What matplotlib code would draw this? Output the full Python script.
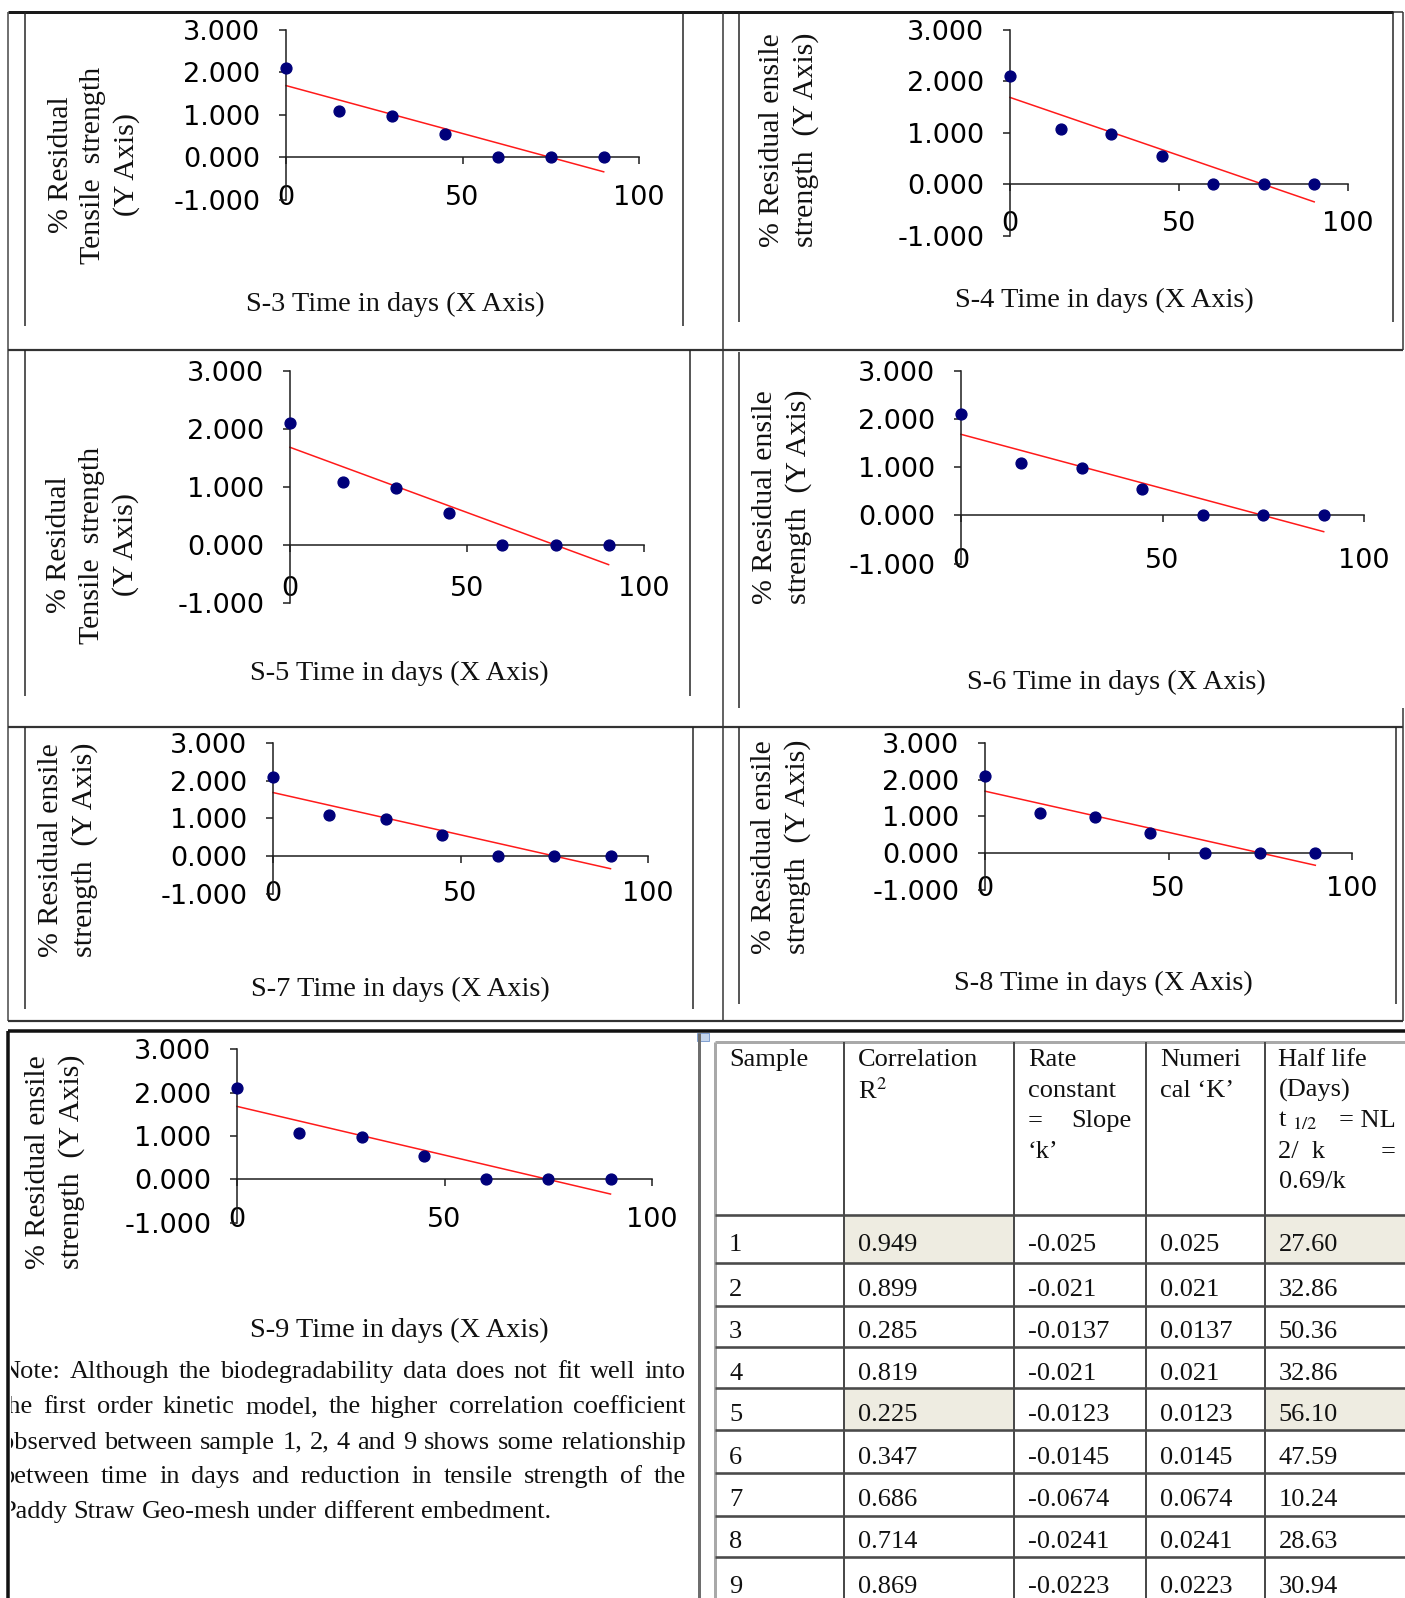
import matplotlib
matplotlib.use("Agg")
import matplotlib.pyplot as plt
import numpy as np
from matplotlib.ticker import FormatStrFormatter
from matplotlib.patches import Rectangle

plt.rcParams['axes.unicode_minus'] = False
plt.rcParams['mathtext.fontset'] = 'stix'

# ------------------------------------------------------------------ data
days = [0, 15, 30, 45, 60, 75, 90]
s3_residual = [2.10, 1.08, 0.98, 0.55, 0.0, 0.0, 0.0]
s4_residual = [2.10, 1.08, 0.98, 0.55, 0.0, 0.0, 0.0]
s5_residual = [2.10, 1.08, 0.98, 0.55, 0.0, 0.0, 0.0]
s6_residual = [2.10, 1.08, 0.98, 0.55, 0.0, 0.0, 0.0]
s7_residual = [2.10, 1.08, 0.98, 0.55, 0.0, 0.0, 0.0]
s8_residual = [2.10, 1.08, 0.98, 0.55, 0.0, 0.0, 0.0]
s9_residual = [2.10, 1.08, 0.98, 0.55, 0.0, 0.0, 0.0]
x_ticks = [0, 50, 100]
y_ticks = [-1, 0, 1, 2, 3]

ylabel_long = "% Residual\nTensile  strength\n(Y Axis)"
ylabel_short = "% Residual ensile\nstrength  (Y Axis)"

table_samples = ['1', '2', '3', '4', '5', '6', '7', '8', '9']
table_r2 = ['0.949', '0.899', '0.285', '0.819', '0.225', '0.347', '0.686', '0.714', '0.869']
table_rate = ['-0.025', '-0.021', '-0.0137', '-0.021', '-0.0123', '-0.0145', '-0.0674', '-0.0241', '-0.0223']
table_numk = ['0.025', '0.021', '0.0137', '0.021', '0.0123', '0.0145', '0.0674', '0.0241', '0.0223']
table_half = ['27.60', '32.86', '50.36', '32.86', '56.10', '47.59', '10.24', '28.63', '30.94']
highlighted_samples = ['1', '5']

note_lines = [
    "Note: Although the biodegradability data does not fit well into",
    "the first order kinetic model, the higher correlation coefficient",
    "observed between sample 1, 2, 4 and 9 shows some relationship",
    "between time in days and reduction in tensile strength of the",
    "Paddy Straw Geo-mesh under different embedment.",
]

# ------------------------------------------------------------------ layout
W, H = 1405, 1598
SERIF = 'Liberation Serif'
SANS = 'DejaVu Sans'

fig = plt.figure(figsize=(W / 100, H / 100), dpi=100)
bg = fig.add_axes([0, 0, 1, 1])
bg.set_xlim(0, W)
bg.set_ylim(H, 0)
bg.axis('off')


def line(x0, y0, x1, y1, px, color='#222222'):
    bg.plot([x0, x1], [y0, y1], color=color, lw=px * 0.72, solid_capstyle='butt')


# outer grid / frames
line(8, 12, 1393, 12, 3, '#1a1a1a')
line(1393, 12, 1403, 12, 1.5, '#333333')
line(8, 12, 8, 1021, 1.5, '#444444')
for yy in (350, 727, 1021):
    line(8, yy, 1403, yy, 2.2, '#333333')
line(723, 12, 723, 1021, 1.5, '#333333')
line(1403, 12, 1403, 350, 1.5, '#333333')
line(1403, 708, 1403, 1021, 1.5, '#333333')
line(8, 1031, W, 1031, 3.5, '#111111')
line(8, 1031, 8, H, 3.5, '#111111')
line(699, 1033, 699, H, 3, '#6e6e6e')
# chart-area frames
for (xx, ya, yb) in [(25, 12, 326), (683, 12, 326), (739, 12, 322), (1393, 12, 322),
                     (25, 350, 696), (690, 350, 696), (739, 352, 708),
                     (25, 727, 1009), (693, 727, 1009), (739, 727, 1004), (1396, 727, 1004)]:
    line(xx, ya, xx, yb, 1.5, '#222222')

# name, values, axes box (x0, x100, y3, y-1), ylabel centre, xlabel centre, ylabel, xtick offset
charts = [
    ('S-3', s3_residual, (286, 639, 29.5, 200), (94, 165), (395, 304), ylabel_long, 38.6),
    ('S-4', s4_residual, (1010, 1348, 29.5, 236), (789, 140), (1104, 300), ylabel_short, 37.7),
    ('S-5', s5_residual, (290, 644, 371, 603), (92.5, 545), (399, 673.5), ylabel_long, 42.0),
    ('S-6', s6_residual, (961, 1364, 371, 563.5), (782, 497), (1116, 682), ylabel_short, 43.6),
    ('S-7', s7_residual, (273, 648, 743, 893.6), (68, 850), (400, 989), ylabel_short, 36.6),
    ('S-8', s8_residual, (985, 1352, 743, 889.5), (781, 847), (1103.5, 983), ylabel_short, 34.6),
    ('S-9', s9_residual, (237, 652, 1049.4, 1222.7), (55, 1162), (399.5, 1330), ylabel_short, 38.3),
]

for name, resid, (x0, x1, yt, yb), (ylx, yly), (xlx, xly), ylab, xoff in charts:
    ax = fig.add_axes([x0 / W, 1 - yb / H, (x1 - x0) / W, (yb - yt) / H])
    ax.patch.set_alpha(0)
    ax.set_xlim(0, 100)
    ax.set_ylim(-1, 3)
    for s in ('top', 'right'):
        ax.spines[s].set_visible(False)
    ax.spines['bottom'].set_position(('data', 0))
    for s in ('left', 'bottom'):
        ax.spines[s].set_color('#1e1e1e')
        ax.spines[s].set_linewidth(1.1)
    ax.set_xticks(x_ticks)
    ax.set_yticks(y_ticks)
    ax.yaxis.set_major_formatter(FormatStrFormatter('%.3f'))
    xpad = max(0.0, (xoff - 11 - 7) * 0.72)
    ax.tick_params(axis='x', direction='out', length=5, width=1.1, color='#1e1e1e',
                   labelsize=19.5, pad=xpad)
    ax.tick_params(axis='y', direction='out', length=5, width=1.1, color='#1e1e1e',
                   labelsize=19.5, pad=13.5)
    for lab in ax.get_xticklabels() + ax.get_yticklabels():
        lab.set_fontfamily(SANS)
    coef = np.polyfit(days, resid, 1)
    xs = np.array([days[0], days[-1]])
    ax.plot(xs, np.polyval(coef, xs), color='#ff1a1a', lw=1.1, zorder=2, clip_on=False)
    ax.plot(days, resid, 'o', color='#00007a', ms=7.8, zorder=3, clip_on=False)
    bg.text(ylx, yly, ylab, rotation=90, ha='center', va='center', multialignment='center',
            fontsize=21.5, family=SERIF, linespacing=1.33, color='#111111')
    bg.text(xlx, xly, f"{name} Time in days (X Axis)", ha='center', va='center',
            fontsize=20.4, family=SERIF, color='#111111')

# ------------------------------------------------------------------ note (justified, clipped left)
nax = fig.add_axes([10.5 / W, 1 - 1540 / H, (698 - 10.5) / W, (1540 - 1345) / H])
nax.set_xlim(10.5, 698)
nax.set_ylim(1540, 1345)
nax.axis('off')
renderer = fig.canvas.get_renderer()
note_y = [1372.4, 1407.0, 1442.8, 1477.4, 1512.0]
NOTE_LEFT, NOTE_RIGHT = 1.0, 686.0
for i, (txt, yy) in enumerate(zip(note_lines, note_y)):
    words = txt.split(' ')
    arts = [nax.text(0, yy, w, fontsize=19, family=SERIF, ha='left', va='center',
                     color='#111111', clip_on=True) for w in words]
    widths = [a.get_window_extent(renderer).width for a in arts]
    if i < len(note_lines) - 1:
        gap = (NOTE_RIGHT - NOTE_LEFT - sum(widths)) / (len(words) - 1)
    else:
        gap = 19 * 100 / 72 * 0.25
    xx = NOTE_LEFT
    for a, w in zip(arts, widths):
        a.set_x(xx)
        xx += w + gap

# ------------------------------------------------------------------ table
col_edges = [715, 843.6, 1013.8, 1146.3, 1264.5, W + 5]
row_edges = [1215, 1263, 1306, 1347, 1388, 1430, 1473, 1516, 1557, 1605]
TOP = 1042
PADX = 14
TFS = 19

# shading
for r, smp in enumerate(table_samples):
    if smp in highlighted_samples:
        for c in (1, 4):
            bg.add_patch(Rectangle((col_edges[c], row_edges[r]), col_edges[c + 1] - col_edges[c],
                                   row_edges[r + 1] - row_edges[r], facecolor='#eeece1',
                                   edgecolor='none', zorder=0.5))

# lines
line(715, TOP, W, TOP, 3, '#a9a9a9')
line(715, TOP, 715, H, 3, '#a9a9a9')
for xx in col_edges[1:-1]:
    line(xx, TOP, xx, H, 2, '#4a4a4a')
for yy in row_edges[:-1]:
    line(715, yy, W, yy, 2.6, '#4a4a4a')
bg.add_patch(Rectangle((697, 1033), 12, 8, facecolor='#c5d6ee', edgecolor='#7f9fd0', lw=0.7))

# header
hy0, hdy = 1060, 30.6
tkw = dict(fontsize=TFS, family=SERIF, va='center', color='#111111')
bg.text(col_edges[0] + PADX, hy0, 'Sample', ha='left', **tkw)
bg.text(col_edges[1] + PADX, hy0, 'Correlation', ha='left', **tkw)
bg.text(col_edges[1] + PADX, hy0 + hdy, 'R$^{2}$', ha='left', **tkw)
bg.text(col_edges[2] + PADX, hy0, 'Rate', ha='left', **tkw)
bg.text(col_edges[2] + PADX, hy0 + hdy, 'constant', ha='left', **tkw)
bg.text(col_edges[2] + PADX, hy0 + 2 * hdy, '=', ha='left', **tkw)
bg.text(col_edges[3] - 15, hy0 + 2 * hdy, 'Slope', ha='right', **tkw)
bg.text(col_edges[2] + PADX, hy0 + 3 * hdy, '\u2018k\u2019', ha='left', **tkw)
bg.text(col_edges[3] + PADX, hy0, 'Numeri', ha='left', **tkw)
bg.text(col_edges[3] + PADX, hy0 + hdy, 'cal \u2018K\u2019', ha='left', **tkw)
bg.text(col_edges[4] + PADX, hy0, 'Half life', ha='left', **tkw)
bg.text(col_edges[4] + PADX, hy0 + hdy, '(Days)', ha='left', **tkw)
bg.text(col_edges[4] + PADX, hy0 + 2 * hdy, 't $_{1/2}$', ha='left', **tkw)
bg.text(1396, hy0 + 2 * hdy, '= NL', ha='right', **tkw)
bg.text(col_edges[4] + PADX, hy0 + 3 * hdy, '2/  k', ha='left', **tkw)
bg.text(1396, hy0 + 3 * hdy, '=', ha='right', **tkw)
bg.text(col_edges[4] + PADX, hy0 + 4 * hdy, '0.69/k', ha='left', **tkw)

# body
for r in range(len(table_samples)):
    yy = (row_edges[r] + row_edges[r + 1]) / 2 + 6
    for c, col in enumerate([table_samples, table_r2, table_rate, table_numk, table_half]):
        bg.text(col_edges[c] + PADX, yy, col[r], ha='left', **tkw)

fig.savefig('out.png', dpi=100)
